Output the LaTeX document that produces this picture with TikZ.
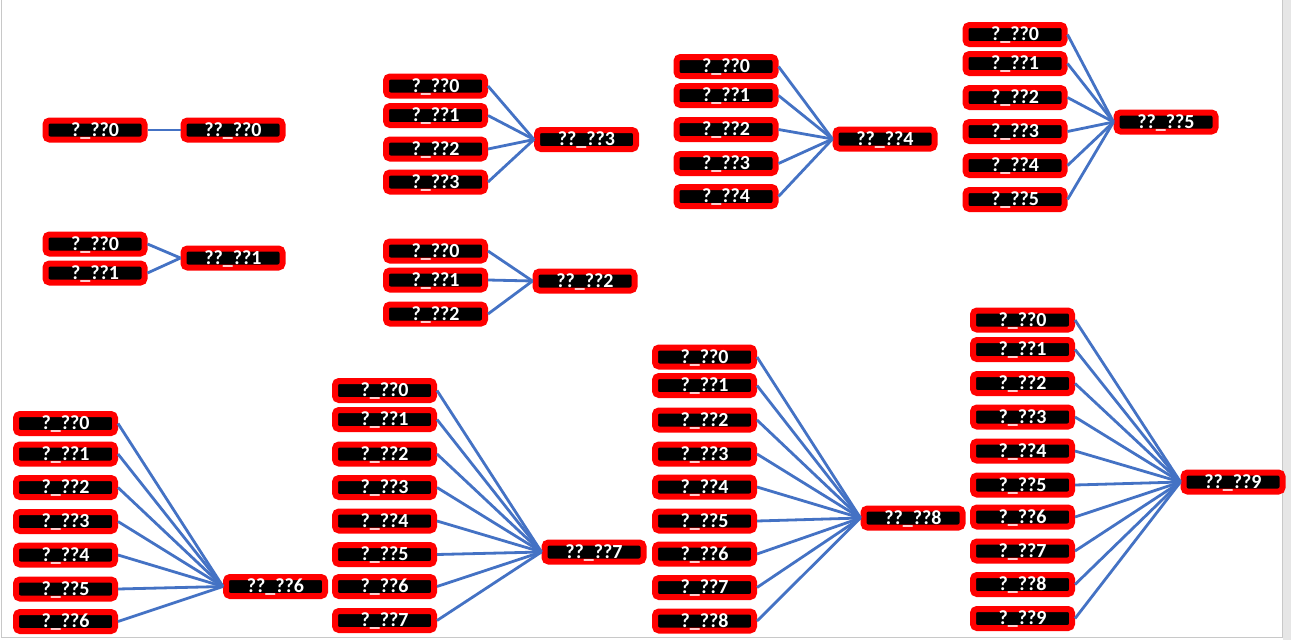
\documentclass[tikz,border=0pt]{standalone}
\usepackage{fontspec}
\setmainfont{Carlito}
\usepackage{tikz}
\definecolor{linkblue}{HTML}{4472C4}
\definecolor{framegray}{HTML}{C8C8C8}
\definecolor{panelgray}{HTML}{E6E6E6}
\tikzset{
  field/.style={draw=red, fill=black, line width=6pt, rounded corners=4pt,
    minimum width=99pt, minimum height=19pt, inner sep=0pt, outer sep=3pt,
    text height=12.5pt, text depth=0pt, text=white,
    font=\fontsize{20}{20}\selectfont\bfseries},
  link/.style={linkblue, line width=2.8pt}
}

\begin{document}
\begin{tikzpicture}[x=1pt,y=-1pt]
\useasboundingbox (0,0) rectangle (1291,640);
\fill[panelgray] (1283,0) rectangle (1291,640);
\draw[framegray] (1.5,0) -- (1.5,637) -- (1282,637) -- (1282,0);

% top row
\node[field] (t0) at (233,130) {??\_??0};
\node[field] (s0-0) at (95,130) {?\_??0};
\draw[link] (s0-0.east) -- (t0.west);

\node[field] (t1) at (233,258) {??\_??1};
\foreach \y [count=\i from 0] in {244,273} {
  \node[field] (s1-\i) at (95,\y) {?\_??\i};
  \draw[link] (s1-\i.east) -- (t1.west);
}

\node[field] (t2) at (585,281) {??\_??2};
\foreach \y [count=\i from 0] in {251,280,314} {
  \node[field] (s2-\i) at (435.5,\y) {?\_??\i};
  \draw[link] (s2-\i.east) -- (t2.west);
}

\node[field] (t3) at (586.5,139.5) {??\_??3};
\foreach \y [count=\i from 0] in {86,115.5,149,182} {
  \node[field] (s3-\i) at (435.5,\y) {?\_??\i};
  \draw[link] (s3-\i.east) -- (t3.west);
}

\node[field] (t4) at (885,139) {??\_??4};
\foreach \y [count=\i from 0] in {66.5,95.5,129.5,163.5,196.5} {
  \node[field] (s4-\i) at (726,\y) {?\_??\i};
  \draw[link] (s4-\i.east) -- (t4.west);
}

\node[field] (t5) at (1166,122) {??\_??5};
\foreach \y [count=\i from 0] in {34.5,63.5,97.5,131.5,165.5,199.5} {
  \node[field] (s5-\i) at (1015,\y) {?\_??\i};
  \draw[link] (s5-\i.east) -- (t5.west);
}

% bottom row
\node[field] (t6) at (275.5,586.5) {??\_??6};
\foreach \y [count=\i from 0] in {423.5,454,487.5,521.5,555,589,621.5} {
  \node[field] (s6-\i) at (65.5,\y) {?\_??\i};
  \draw[link] (s6-\i.east) -- (t6.west);
}

\node[field] (t7) at (594,552) {??\_??7};
\foreach \y [count=\i from 0] in {390.5,419.5,454,487.5,521,554.5,586.5,620.5} {
  \node[field] (s7-\i) at (384.5,\y) {?\_??\i};
  \draw[link] (s7-\i.east) -- (t7.west);
}

\node[field] (t8) at (913,518) {??\_??8};
\foreach \y [count=\i from 0] in {357,385.5,420,454,487,521,554,587.5,621} {
  \node[field] (s8-\i) at (704.5,\y) {?\_??\i};
  \draw[link] (s8-\i.east) -- (t8.west);
}

\node[field] (t9) at (1233,482) {??\_??9};
\foreach \y [count=\i from 0] in {320,349.5,383.5,417,451,485,517,551,584.5,618.5} {
  \node[field] (s9-\i) at (1022.5,\y) {?\_??\i};
  \draw[link] (s9-\i.east) -- (t9.west);
}
\end{tikzpicture}
\end{document}
